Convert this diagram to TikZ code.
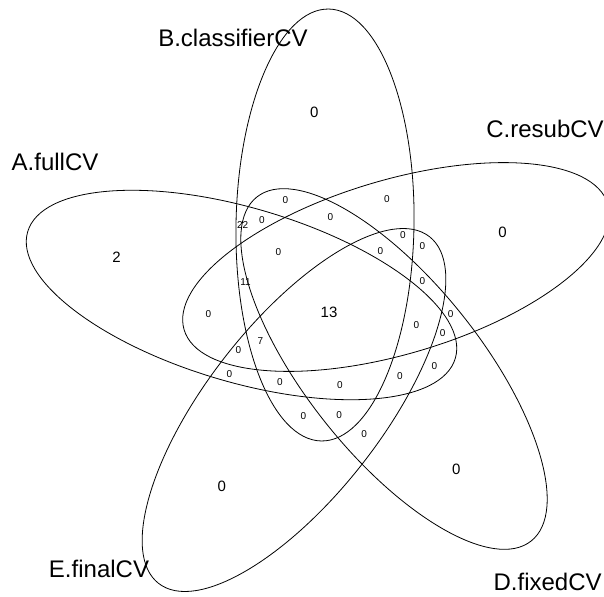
\documentclass[tikz,border=0pt]{standalone}
\usepackage{fontspec}
\setmainfont{Liberation Sans}
\begin{document}
\begin{tikzpicture}[x=1pt,y=-1pt,
    setname/.style={inner sep=0pt, font=\fontsize{24}{28}\selectfont},
    bignum/.style={inner sep=0pt, font=\fontsize{15}{18}\selectfont},
    smallnum/.style={inner sep=0pt, font=\fontsize{10}{12}\selectfont}]
\useasboundingbox (0,0) rectangle (604,596);
% Ellipses
\draw[line width=0.8pt] (241.5,295) ellipse [x radius=223, y radius=87, rotate=-16.5];
\draw[line width=0.8pt] (325,225) ellipse [x radius=216, y radius=89, rotate=89];
\draw[line width=0.8pt] (396,267) ellipse [x radius=221, y radius=87, rotate=16.5];
\draw[line width=0.8pt] (394,369) ellipse [x radius=220, y radius=87, rotate=-51.4];
\draw[line width=0.8pt] (294,410) ellipse [x radius=220, y radius=87, rotate=52];
% Set names
\node[setname] (A) at (55,162) {A.fullCV};
\node[setname] (B) at (233,38) {B.classifierCV};
\node[setname] (C) at (545,129) {C.resubCV};
\node[setname] (D) at (547.6,582) {D.fixedCV};
\node[setname] (E) at (99,569) {E.finalCV};
% Counts
\node[bignum] (n1) at (116.5,257) {2};
\node[bignum] (n2) at (314.3,112.5) {0};
\node[bignum] (n3) at (502.5,232.7) {0};
\node[bignum] (n4) at (456.2,469) {0};
\node[bignum] (n5) at (221.7,486) {0};
\node[bignum] (n6) at (329,312.3) {13};
\node[smallnum] (n7) at (285.4,200) {0};
\node[smallnum] (n8) at (386.8,199) {0};
\node[smallnum] (n9) at (330.5,217.4) {0};
\node[smallnum] (n10) at (262,220) {0};
\node[smallnum] (n11) at (242.7,225) {22};
\node[smallnum] (n12) at (278.4,252) {0};
\node[smallnum] (n13) at (380.5,251) {0};
\node[smallnum] (n14) at (403,235) {0};
\node[smallnum] (n15) at (422.5,246.2) {0};
\node[smallnum] (n16) at (422.5,281.3) {0};
\node[smallnum] (n17) at (245.5,282.2) {11};
\node[smallnum] (n18) at (208.5,314.2) {0};
\node[smallnum] (n19) at (450.6,314.2) {0};
\node[smallnum] (n20) at (416.3,325) {0};
\node[smallnum] (n21) at (442.7,333.4) {0};
\node[smallnum] (n22) at (260.4,341) {7};
\node[smallnum] (n23) at (238.4,350.3) {0};
\node[smallnum] (n24) at (434.3,366) {0};
\node[smallnum] (n25) at (229.3,374.3) {0};
\node[smallnum] (n26) at (399.8,376.2) {0};
\node[smallnum] (n27) at (280,382) {0};
\node[smallnum] (n28) at (340,385) {0};
\node[smallnum] (n29) at (303.4,416.4) {0};
\node[smallnum] (n30) at (339.2,415) {0};
\node[smallnum] (n31) at (364.2,434.1) {0};
\end{tikzpicture}
\end{document}
